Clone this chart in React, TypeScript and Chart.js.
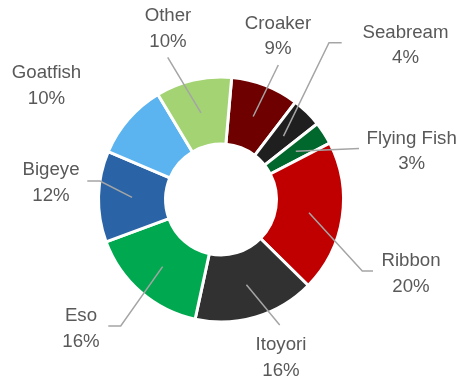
import React, { useEffect, useRef } from "react";
import { Chart, registerables } from "chart.js";

Chart.register(...registerables);

// ---- data ----
const categories = ["Croaker", "Seabream", "Flying Fish", "Ribbon", "Itoyori", "Eso", "Bigeye", "Goatfish", "Other"];
const shares = [9, 4, 3, 20, 16, 16, 12, 10, 10];
const percentLabels = ["9%", "4%", "3%", "20%", "16%", "16%", "12%", "10%", "10%"];
const sliceColors = ["#6E0000", "#1F1F1F", "#00682D", "#C00000", "#313131", "#00A84F", "#2A64A7", "#5BB3EF", "#A3D372"];

// ---- label layout (first-line centre relative to ring centre) ----
const labelOffsets: [number, number][] = [
  [57, -177.5],
  [184.5, -168.5],
  [190.7, -62.5],
  [190, 60.2],
  [60, 144],
  [-140, 115],
  [-170, -31.2],
  [-174.5, -128.2],
  [-53, -185],
];
// leader polyline points relative to label centre: [attach, elbow?]
const leaderPoints: [number, number][][] = [
  [[0.3, 43]],
  [[-63.8, 11.7], [-76.5, 11.7]],
  [[-52.7, 11.5]],
  [[-38, 11.3], [-48.7, 11.3]],
  [[-1.3, -18.5]],
  [[27.3, 11.5], [39.7, 11.5]],
  [[36.3, 12.7], [49, 12.7]],
  [],
  [[-0.3, 42.8]],
];

const FONT_SIZE = 18.67;
const LINE_GAP = 25.7;

const labelPlugin = {
  id: "outerLabels",
  afterDatasetsDraw(chart: any) {
    const meta = chart.getDatasetMeta(0);
    const ctx = chart.ctx as CanvasRenderingContext2D;
    ctx.save();
    meta.data.forEach((arc: any, i: number) => {
      const cx = arc.x;
      const cy = arc.y;
      const lx = cx + labelOffsets[i][0];
      const ly = cy + labelOffsets[i][1];
      const pts = leaderPoints[i];
      if (pts.length) {
        const start = arc.getCenterPoint();
        ctx.beginPath();
        ctx.strokeStyle = "#A5A5A5";
        ctx.lineWidth = 1.5;
        ctx.moveTo(start.x, start.y);
        for (let k = pts.length - 1; k >= 0; k--) {
          ctx.lineTo(lx + pts[k][0], ly + pts[k][1]);
        }
        ctx.stroke();
      }
      ctx.fillStyle = "#595959";
      ctx.font = `${FONT_SIZE}px "Liberation Sans", Arial, sans-serif`;
      ctx.textAlign = "center";
      ctx.textBaseline = "alphabetic";
      const capHalf = FONT_SIZE * 0.358;
      ctx.fillText(categories[i], lx, ly + capHalf);
      ctx.fillText(percentLabels[i], lx, ly + capHalf + LINE_GAP);
    });
    ctx.restore();
  },
};

export default function App() {
  const ref = useRef<HTMLCanvasElement | null>(null);
  useEffect(() => {
    if (!ref.current) return;
    const chart = new Chart(ref.current, {
      type: "doughnut",
      data: {
        labels: categories,
        datasets: [
          {
            data: shares,
            backgroundColor: sliceColors,
            borderColor: "#FFFFFF",
            borderWidth: 3,
            hoverOffset: 0,
          },
        ],
      },
      options: {
        responsive: false,
        animation: false,
        rotation: 5,
        radius: 122.5,
        cutout: "45.3%",
        layout: { padding: { left: 100, right: 117, top: 78.5, bottom: 60.5 } },
        plugins: {
          legend: { display: false },
          tooltip: { enabled: false },
        },
      },
      plugins: [labelPlugin],
    });
    return () => chart.destroy();
  }, []);
  return (
    <div style={{ position: "absolute", left: 0, top: 0, width: 459, height: 381, background: "#fff" }}>
      <canvas ref={ref} width={459} height={381} style={{ display: "block" }} />
    </div>
  );
}
